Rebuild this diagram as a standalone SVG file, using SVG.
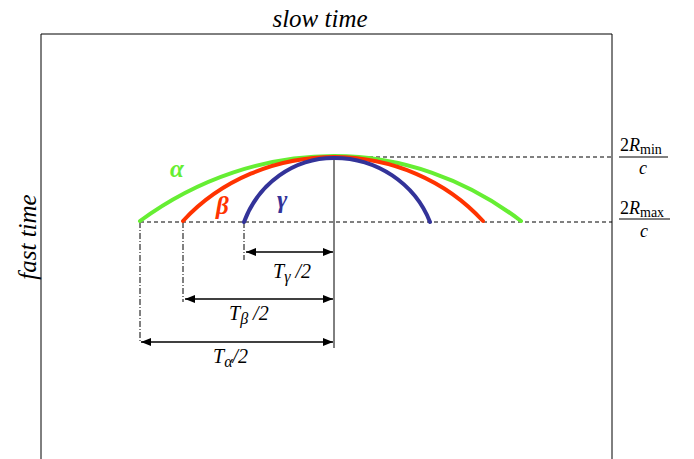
<svg xmlns="http://www.w3.org/2000/svg" width="694" height="459" viewBox="0 0 694 459">
<defs>
<marker id="ah" viewBox="0 0 10 8" refX="10" refY="4" markerWidth="10" markerHeight="8" markerUnits="userSpaceOnUse" orient="auto-start-reverse">
<path d="M0,0 L10,4 L0,8 Z" fill="#000"/>
</marker>
<style>
text{font-family:'Liberation Serif','Times New Roman',serif}
.lab{font-style:italic;fill:#000}
.gk{font-style:italic;font-weight:bold;font-size:25px}
.dash{stroke:#000;stroke-width:1;stroke-dasharray:4 3;fill:none}
.dd{stroke:#000;stroke-width:1;stroke-dasharray:6 2 1 2;fill:none}
.curve{fill:none;stroke-width:4;stroke-linecap:round}
.dim{stroke:#000;stroke-width:1.5;fill:none}
</style>
</defs>
<rect width="694" height="459" fill="#fff"/>
<g id="frame">
<path d="M41,460 V34 H612 V460" fill="none" stroke="#000" stroke-width="1"/>
<text class="lab" x="320" y="27" font-size="25" font-family="Liberation Serif, serif" text-anchor="middle">slow time</text>
<text class="lab" x="0" y="0" font-size="25" font-family="Liberation Serif, serif" text-anchor="middle" transform="translate(36,237) rotate(-90)">fast time</text>
</g>
<g id="connectors">
<line class="dash" x1="334" y1="157" x2="612" y2="157"/>
<line class="dash" x1="140" y1="222" x2="612" y2="222"/>
<line x1="334" y1="157" x2="334" y2="348" stroke="#000" stroke-width="1"/>
<line class="dd" x1="140" y1="222" x2="140" y2="343"/>
<line class="dd" x1="183" y1="222" x2="183" y2="302"/>
<line class="dd" x1="244" y1="222" x2="244" y2="260"/>
<line class="dim" x1="246" y1="252" x2="333" y2="252" marker-start="url(#ah)" marker-end="url(#ah)"/>
<line class="dim" x1="185" y1="299" x2="333" y2="299" marker-start="url(#ah)" marker-end="url(#ah)"/>
<line class="dim" x1="141" y1="342" x2="333" y2="342" marker-start="url(#ah)" marker-end="url(#ah)"/>
</g>
<g id="curve-alpha">
<path class="curve" stroke="#66ee33" d="M140,221 A355,400 0 0 1 334,156 A342,400 0 0 1 521,221"/>
<text class="gk" x="170" y="177" fill="#66ee33" font-family="Liberation Serif, serif">α</text>
</g>
<g id="curve-beta">
<path class="curve" stroke="#ff3300" d="M183,221 A197,180 0 0 1 334,157 A195,180 0 0 1 483,221"/>
<text class="gk" x="216" y="214" fill="#ff3300" font-family="Liberation Serif, serif">β</text>
</g>
<g id="curve-gamma">
<path class="curve" stroke="#333399" d="M244,222 A96,100 0 0 1 334,158 A102.5,100 0 0 1 430,222"/>
<text class="gk" x="277" y="208" fill="#333399" font-family="Liberation Serif, serif">γ</text>
</g>
<g id="label-tg">
<text class="lab" x="273" y="278" font-size="20" font-family="Liberation Serif, serif">T<tspan font-size="16" dy="4">γ</tspan><tspan dy="-4"> /2</tspan></text>
</g>
<g id="label-tb">
<text class="lab" x="229" y="320" font-size="20" font-family="Liberation Serif, serif">T<tspan font-size="16" dy="4">β</tspan><tspan dy="-4"> /2</tspan></text>
</g>
<g id="label-ta">
<text class="lab" x="213" y="363" font-size="20" font-family="Liberation Serif, serif">T<tspan font-size="16" dy="4">α</tspan><tspan dy="-4">/2</tspan></text>
</g>
<g id="label-rmin">
<text x="620" y="151" font-size="18" font-family="Liberation Serif, serif">2<tspan font-style="italic">R</tspan><tspan font-size="14" dy="3">min</tspan></text>
<line x1="619" y1="157" x2="668" y2="157" stroke="#000" stroke-width="1"/>
<text class="lab" x="643" y="174" font-size="18" font-family="Liberation Serif, serif" text-anchor="middle">c</text>
</g>
<g id="label-rmax">
<text x="620" y="214" font-size="18" font-family="Liberation Serif, serif">2<tspan font-style="italic">R</tspan><tspan font-size="14" dy="3">max</tspan></text>
<line x1="619" y1="219" x2="670" y2="219" stroke="#000" stroke-width="1"/>
<text class="lab" x="644" y="237" font-size="18" font-family="Liberation Serif, serif" text-anchor="middle">c</text>
</g>
</svg>
